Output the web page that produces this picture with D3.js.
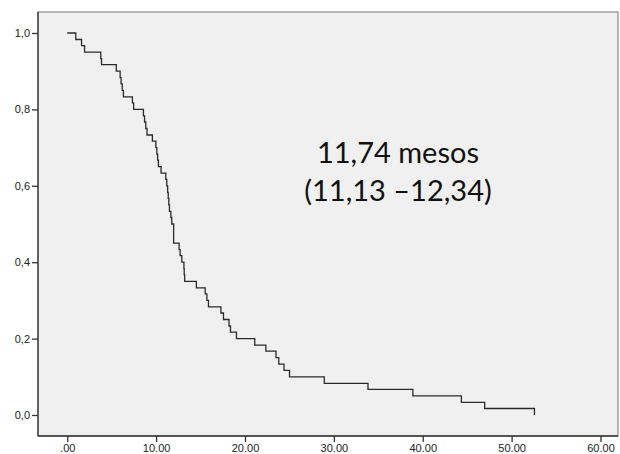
<!DOCTYPE html>
<html>
<head>
<meta charset="utf-8">
<script src="https://cdn.jsdelivr.net/npm/d3@7"></script>
<style>
  html, body { margin: 0; padding: 0; background: #fff; }
  svg { display: block; }
  .tick text { font-family: "Liberation Sans", Arial, sans-serif; font-size: 11px; fill: #222; }
</style>
</head>
<body>
<svg id="chart" width="620" height="454"></svg>
<script>
/* Kaplan-Meier curve, survival in months */

// event times (months) and survival after each event
const eventTimes = [0.96, 1.61, 1.95, 3.77, 3.86, 5.52, 5.95, 6.06, 6.19, 6.32,
  7.33, 7.47, 8.57, 8.70, 8.84, 8.98, 9.58, 9.97, 10.08, 10.17,
  10.26, 10.56, 11.09, 11.20, 11.30, 11.36, 11.43, 11.50, 11.66, 11.76,
  11.97, 11.97, 11.97, 12.59, 12.70, 12.89, 13.13, 13.16, 13.21, 14.53,
  15.52, 15.71, 15.89, 17.29, 17.58, 18.20, 18.37, 19.04, 21.10, 22.35,
  23.49, 23.80, 24.39, 25.01, 28.92, 33.84, 38.89, 44.35, 46.97, 52.57];
const survival = [0.983, 0.967, 0.950, 0.933, 0.917, 0.900, 0.883, 0.867, 0.850, 0.833,
  0.817, 0.800, 0.783, 0.767, 0.750, 0.733, 0.717, 0.700, 0.683, 0.667,
  0.650, 0.633, 0.617, 0.600, 0.583, 0.567, 0.550, 0.533, 0.517, 0.500,
  0.483, 0.467, 0.450, 0.433, 0.417, 0.400, 0.383, 0.367, 0.350, 0.333,
  0.317, 0.300, 0.283, 0.267, 0.250, 0.233, 0.217, 0.200, 0.183, 0.167,
  0.150, 0.133, 0.117, 0.100, 0.083, 0.067, 0.050, 0.033, 0.017, 0.000];

const xTicks = [0, 10, 20, 30, 40, 50, 60];
const xTickLabels = ['.00', '10.00', '20.00', '30.00', '40.00', '50.00', '60.00'];
const yTicks = [0, 0.2, 0.4, 0.6, 0.8, 1.0];
const yTickLabels = ['0,0', '0,2', '0,4', '0,6', '0,8', '1,0'];
const noteLines = ['11,74 mesos', '(11,13 \u201312,34)'];

const margin = { left: 38, top: 12, right: 2, bottom: 18 };
const width = 620, height = 454;

const svg = d3.select('#chart');

const x = d3.scaleLinear().domain([-3.29, 61.97]).range([margin.left, width - margin.right]);
const y = d3.scaleLinear().domain([-0.055, 1.055]).range([height - margin.bottom, margin.top]);

// plot background + frame
svg.append('rect')
  .attr('x', margin.left).attr('y', margin.top)
  .attr('width', width - margin.right - margin.left)
  .attr('height', height - margin.bottom - margin.top)
  .attr('fill', '#f0f0f0')
  .attr('stroke', '#8a8a8a').attr('stroke-width', 1.2);

// step line starting at (0, 1)
const pts = [[0, 1]].concat(eventTimes.map((t, i) => [t, survival[i]]));
const line = d3.line().x(d => x(d[0])).y(d => y(d[1])).curve(d3.curveStepAfter);

svg.append('path')
  .datum(pts)
  .attr('d', line)
  .attr('fill', 'none')
  .attr('stroke', '#2a2a2a')
  .attr('stroke-width', 1.3);

// axes
const xAxis = d3.axisBottom(x).tickValues(xTicks)
  .tickFormat((d, i) => xTickLabels[i]).tickSize(6).tickPadding(2);
const gx = svg.append('g')
  .attr('transform', `translate(0,${height - margin.bottom})`)
  .call(xAxis);
gx.select('.domain').attr('stroke', '#333').attr('stroke-width', 1.3)
  .attr('d', `M${margin.left},0H${width - margin.right}`);
gx.selectAll('.tick line').attr('stroke', '#333').attr('stroke-width', 1.3);

const yAxis = d3.axisLeft(y).tickValues(yTicks)
  .tickFormat((d, i) => yTickLabels[i]).tickSize(6).tickPadding(2);
const gy = svg.append('g')
  .attr('transform', `translate(${margin.left},0)`)
  .call(yAxis);
gy.select('.domain').attr('stroke', '#333').attr('stroke-width', 1.3)
  .attr('d', `M0,${margin.top}V${height - margin.bottom}`);
gy.selectAll('.tick line').attr('stroke', '#333').attr('stroke-width', 1.3);

// median annotation
svg.append('g').selectAll('text').data(noteLines).join('text')
  .attr('x', 398)
  .attr('y', (d, i) => 163 + i * 38)
  .attr('text-anchor', 'middle')
  .attr('font-family', 'Lato, "Open Sans", sans-serif')
  .attr('font-size', 29)
  .attr('fill', '#111')
  .text(d => d);
</script>
</body>
</html>
